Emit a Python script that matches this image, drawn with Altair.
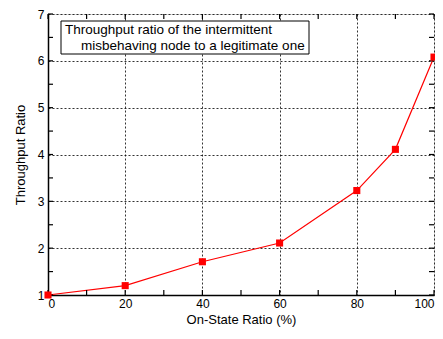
import altair as alt
import pandas as pd

on_state = [0, 20, 40, 60, 80, 90, 100]
ratio = [1.0, 1.2, 1.71, 2.11, 3.23, 4.11, 6.08]

x_major = [0, 20, 40, 60, 80, 100]
x_ticks = [0, 10, 20, 30, 40, 50, 60, 70, 80, 90, 100]
y_ticks = [1, 1.5, 2, 2.5, 3, 3.5, 4, 4.5, 5, 5.5, 6, 6.5, 7]

legend_lines = ["Throughput ratio of the intermittent", "misbehaving node to a legitimate one"]

W, H = 386, 281
FONT = "Liberation Sans"

df = pd.DataFrame({"x": on_state, "y": ratio})
xt = pd.DataFrame({"x": x_ticks})
yt = pd.DataFrame({"y": y_ticks})

xs = alt.Scale(domain=[0, 100], nice=False, zero=False)
ys = alt.Scale(domain=[1, 7], nice=False, zero=False)

xaxis = alt.Axis(values=x_major, title="On-State Ratio (%)", grid=True, ticks=False,
                 gridDash=[2, 2], gridColor="black", gridOpacity=0.8, gridWidth=1,
                 domainColor="black", domainWidth=1.5, labelFontSize=12, labelColor="black",
                 labelFont=FONT, titleFont=FONT, titleFontSize=13, titleFontWeight="normal",
                 titleColor="black", labelPadding=3, titlePadding=4)
yaxis = alt.Axis(values=y_ticks, title="Throughput Ratio", grid=True, ticks=False,
                 labelExpr="datum.value % 1 == 0 ? datum.label : ''",
                 gridDash=[2, 2], gridColor="black", gridOpacity=0.8, gridWidth=1,
                 domainColor="black", domainWidth=1.5, labelFontSize=12, labelColor="black",
                 labelFont=FONT, titleFont=FONT, titleFontSize=13, titleFontWeight="normal",
                 titleColor="black", labelPadding=4, titlePadding=10)

base_line = alt.Chart(df).mark_line(color="red", strokeWidth=1.2).encode(
    x=alt.X("x:Q", scale=xs, axis=xaxis),
    y=alt.Y("y:Q", scale=ys, axis=yaxis),
)
pts = alt.Chart(df).mark_point(shape="square", filled=True, color="red", size=50, opacity=1).encode(
    x=alt.X("x:Q", scale=xs), y=alt.Y("y:Q", scale=ys)
)

tick_bot = alt.Chart(xt).mark_rule(color="black", strokeWidth=1.2).encode(
    x=alt.X("x:Q", scale=xs), y=alt.value(H), y2=alt.value(H - 5))
tick_top = alt.Chart(xt).mark_rule(color="black", strokeWidth=1.2).encode(
    x=alt.X("x:Q", scale=xs), y=alt.value(0), y2=alt.value(5))
tick_left = alt.Chart(yt).mark_rule(color="black", strokeWidth=1.2).encode(
    y=alt.Y("y:Q", scale=ys), x=alt.value(0), x2=alt.value(5))
tick_right = alt.Chart(yt).mark_rule(color="black", strokeWidth=1.2).encode(
    y=alt.Y("y:Q", scale=ys), x=alt.value(W - 5), x2=alt.value(W))

box = alt.Chart(pd.DataFrame({"a": [0]})).mark_rect(fill="white", stroke="black", strokeWidth=1).encode(
    x=alt.value(13), x2=alt.value(261), y=alt.value(7), y2=alt.value(40))
txt1 = alt.Chart(pd.DataFrame({"t": [legend_lines[0]]})).mark_text(
    align="left", baseline="middle", font=FONT, fontSize=13.5, color="black").encode(
    x=alt.value(17), y=alt.value(16), text="t:N")
txt2 = alt.Chart(pd.DataFrame({"t": [legend_lines[1]]})).mark_text(
    align="left", baseline="middle", font=FONT, fontSize=13.5, color="black").encode(
    x=alt.value(33), y=alt.value(32), text="t:N")

chart = alt.layer(base_line, tick_bot, tick_top, tick_left, tick_right, pts, box, txt1, txt2).properties(
    width=W, height=H,
    autosize=alt.AutoSizeParams(type="none"),
    padding={"left": 40, "top": 6, "right": 1, "bottom": 36},
).configure_view(stroke="black", strokeWidth=1.5).configure(background="white")

chart.save("out.html", embed_options={"renderer": "svg", "actions": False})
